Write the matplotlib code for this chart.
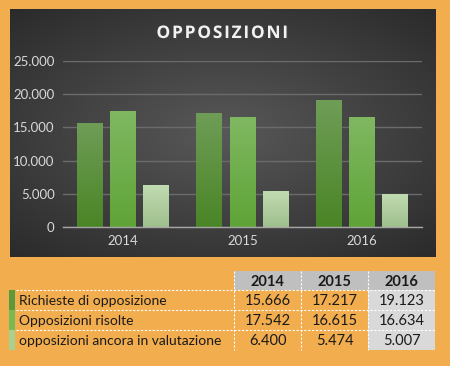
import numpy as np
import matplotlib
matplotlib.use("Agg")
import matplotlib.pyplot as plt
from matplotlib.patches import Rectangle
import matplotlib.patheffects as pe

years = ["2014", "2015", "2016"]
series_names = ["Richieste di opposizione", "Opposizioni risolte",
                "opposizioni ancora in valutazione"]
richieste = [15666, 17217, 19123]
risolte = [17542, 16615, 16634]
in_valutazione = [6400, 5474, 5007]
series = [richieste, risolte, in_valutazione]
yticks = [0, 5000, 10000, 15000, 20000, 25000]

# gradient colours (bottom, top) per series
grad = [("#4a8526", "#6f9d57"), ("#5fa437", "#80b862"), ("#9fbf8d", "#c2dcb2")]
swatch = ["#5b9a3c", "#77b955", "#a9d08e"]
orange = "#f2ad4e"

def fmt(v):
    return "{:,}".format(v).replace(",", ".")

W, H = 450, 366
fig = plt.figure(figsize=(W / 100, H / 100), dpi=100, facecolor=orange)

# dark panel with radial gradient
panel = fig.add_axes([10 / W, 1 - 257 / H, 426 / W, 248 / H])
yy, xx = np.mgrid[-1:1:200j, -1:1:300j]
r = np.sqrt((xx * 0.85) ** 2 + (yy * 0.95) ** 2)
g = np.clip(0.345 - 0.14 * r, 0.15, 0.345)
img = np.dstack([g, g, g])
panel.imshow(img, extent=[0, 1, 0, 1], aspect="auto", interpolation="bilinear")
panel.set_xlim(0, 1)
panel.set_ylim(0, 1)
panel.axis("off")

ax = fig.add_axes([63 / W, 1 - 227 / H, 359 / W, 166 / H])
ax.patch.set_alpha(0)
x = np.arange(len(years))
step = 0.276
width = 0.217
vert = np.linspace(0, 1, 100).reshape(-1, 1)
for i, vals in enumerate(series):
    bars = ax.bar(x + (i - 1) * step, vals, width, color="none", zorder=3)
    c0 = np.array(matplotlib.colors.to_rgb(grad[i][0]))
    c1 = np.array(matplotlib.colors.to_rgb(grad[i][1]))
    gimg = (c0[None, None, :] * (1 - vert[:, :, None]) + c1[None, None, :] * vert[:, :, None])
    for b in bars:
        bx = b.get_x()
        im = ax.imshow(gimg, extent=[bx, bx + b.get_width(), 0, b.get_height()],
                       origin="lower", aspect="auto", zorder=3)
        im.set_clip_path(b)

ax.set_xlim(-0.5, 2.5)
ax.set_ylim(0, 25000)
ax.set_yticks(yticks)
ax.set_yticklabels([fmt(v) for v in yticks])
ax.set_xticks(x)
ax.set_xticklabels(years)
ax.grid(axis="y", color="#6b6b6b", linewidth=1, zorder=0)
ax.tick_params(length=0, colors="#d9d9d9", labelsize=9.5, pad=6)
for lab in ax.get_xticklabels() + ax.get_yticklabels():
    lab.set_family("Lato")
    lab.set_color("#d9d9d9")
for s in ["top", "right", "left"]:
    ax.spines[s].set_visible(False)
ax.spines["bottom"].set_color("#a6a6a6")
ax.spines["bottom"].set_linewidth(1)
ax.spines["bottom"].set_zorder(4)

# letter-spaced title
fig.text(222 / W, 1 - 33 / H, "\u200a".join("OPPOSIZIONI"),
         ha="center", va="center", color="#f2f2f2", fontsize=12.5,
         fontweight="bold", family="Open Sans",
         path_effects=[pe.withSimplePatchShadow(offset=(1, -1), alpha=0.5)])

# table
tab = fig.add_axes([0, 0, 1, 1])
tab.set_xlim(0, W)
tab.set_ylim(H, 0)
tab.axis("off")
col_x = [234, 301, 368, 435]
row_y = [271, 290, 310, 330, 350]
tab.add_patch(Rectangle((col_x[0], row_y[0]), col_x[3] - col_x[0], row_y[1] - row_y[0],
                        color="#bfbfbf", lw=0))
tab.add_patch(Rectangle((col_x[2], row_y[1]), col_x[3] - col_x[2], row_y[4] - row_y[1],
                        color="#d9d9d9", lw=0))
for j, yr in enumerate(years):
    tab.text((col_x[j] + col_x[j + 1]) / 2, (row_y[0] + row_y[1]) / 2 + 1, yr,
             ha="center", va="center", fontsize=10.5, fontweight="bold",
             family="Lato", color="#1a1a1a")
for i, name in enumerate(series_names):
    y0, y1 = row_y[i + 1], row_y[i + 2]
    tab.add_patch(Rectangle((9, y0), 6, y1 - y0, color=swatch[i], lw=0))
    tab.text(19, (y0 + y1) / 2 + 1, name, ha="left", va="center", fontsize=10,
             family="Lato", color="#1a1a1a")
    for j in range(3):
        tab.text((col_x[j] + col_x[j + 1]) / 2, (y0 + y1) / 2 + 1, fmt(series[i][j]),
                 ha="center", va="center", fontsize=10.5, family="Lato", color="#1a1a1a")
for cx in col_x[:3]:
    tab.plot([cx, cx], [row_y[0], row_y[4]], color="white", lw=0.8, ls=(0, (2, 1.5)))
for ry in row_y[1:4]:
    tab.plot([16, col_x[3]], [ry, ry], color="white", lw=0.8, ls=(0, (2, 1.5)))

fig.savefig("out.png", dpi=100, facecolor=orange)
